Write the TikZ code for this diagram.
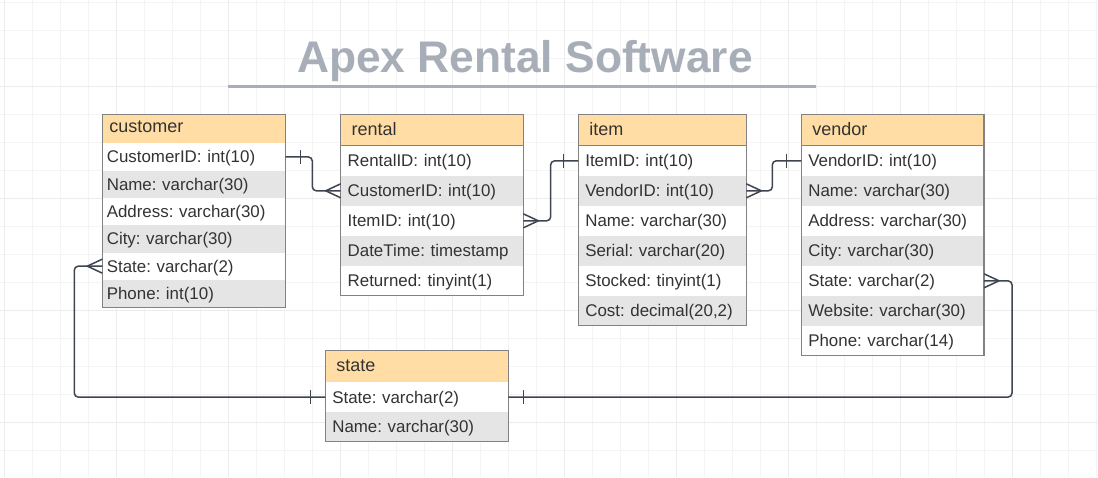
\documentclass[tikz,border=0pt]{standalone}
\usepackage{fontspec}
\setmainfont{Liberation Sans}
\usetikzlibrary{calc}
\frenchspacing

\definecolor{headfill}{HTML}{FFDDA4}
\definecolor{rowgray}{HTML}{E5E5E5}
\definecolor{boxline}{HTML}{828282}
\definecolor{wire}{HTML}{3E4450}
\definecolor{ink}{HTML}{333333}
\definecolor{titlegray}{HTML}{A8AEB8}
\definecolor{gridlight}{HTML}{F4F4F4}
\definecolor{griddark}{HTML}{ECECEC}

\newcommand\headfont{\fontsize{18pt}{20pt}\selectfont}
\newcommand\fieldfont{\fontsize{16.9pt}{19pt}\selectfont}
\newcommand\titlefont{\fontsize{44.3pt}{50pt}\selectfont\bfseries}

\begin{document}
\begin{tikzpicture}[x=1pt,y=-1pt,
    gridline/.style={draw=gridlight, line width=1pt},
    gridmajor/.style={draw=griddark, line width=1pt},
    tablehead/.style={draw=boxline, line width=1.2pt, fill=headfill, anchor=north west,
      outer sep=0pt, inner ysep=0pt, inner xsep=11pt, minimum height=31.5pt,
      text height=13pt, text depth=3pt, align=left, font=\headfont, text=ink},
    field/.style={anchor=north west, outer sep=0pt, inner ysep=0pt, inner xsep=7pt,
      minimum height=30pt, text height=13pt, text depth=1pt, align=left,
      font=\fieldfont, text=ink},
    tableframe/.style={draw=boxline, line width=1.2pt},
    conn/.style={draw=wire, line width=1.5pt, rounded corners=4pt},
    many/.pic={\draw[conn] (-15,0) -- (0,-7) (-15,0) -- (0,7);},
    one/.pic={\draw[conn] (-15,-7) -- (-15,7);}]
    \useasboundingbox (0,0) rectangle (1098,477);
    \fill[white] (0,0) rectangle (1098,477);
    %% Grid
    \foreach \k in {0,...,39} \draw[gridline] ({4+28*\k},0) -- ({4+28*\k},477);
    \foreach \k in {0,...,16} \draw[gridline] (0,{2+28*\k}) -- (1098,{2+28*\k});
    \foreach \k in {0,...,9} \draw[gridmajor] ({4+112*\k},0) -- ({4+112*\k},477);
    \foreach \k in {0,...,3} \draw[gridmajor] (0,{86+112*\k}) -- (1098,{86+112*\k});
    %% Title
    \node[anchor=base, font=\titlefont, text=titlegray] (title) at (525,72.3) {Apex Rental Software};
    \draw[draw=titlegray, line width=3pt] (228.4,86.7) -- (815.9,86.7);
    %% customer
    \node[tablehead, inner xsep=7pt, text width=169pt, minimum height=29pt, text depth=6pt] (customer) at (102.3,114.3) {customer};
    \foreach \txt [count=\i] in {CustomerID: int(10), Name: varchar(30), Address: varchar(30),
        City: varchar(30), State: varchar(2), Phone: int(10)} {
      \ifodd\i \def\rowfill{white}\else \def\rowfill{rowgray}\fi
      \node[field, fill=\rowfill, inner xsep=4.5pt, text width=174pt, minimum height=27.3pt]
        (customer-\i) at ($(customer.south west)+(0,{27.3*(\i-1)})$) {\txt};
    }
    \draw[tableframe] (customer.north west) rectangle (customer-6.south east);
    %% rental
    \node[tablehead, text width=160.6pt] (rental) at (340.7,114.3) {rental};
    \foreach \txt [count=\i] in {RentalID: int(10), CustomerID: int(10), ItemID: int(10),
        DateTime: timestamp, Returned: tinyint(1)} {
      \ifodd\i \def\rowfill{white}\else \def\rowfill{rowgray}\fi
      \node[field, fill=\rowfill, text width=168.6pt]
        (rental-\i) at ($(rental.south west)+(0,{30*(\i-1)})$) {\txt};
    }
    \draw[tableframe] (rental.north west) rectangle (rental-5.south east);
    %% item
    \node[tablehead, text width=146pt] (item) at (578.3,114.3) {item};
    \foreach \txt [count=\i] in {ItemID: int(10), VendorID: int(10), Name: varchar(30),
        Serial: varchar(20), Stocked: tinyint(1), {Cost: decimal(20,2)}} {
      \ifodd\i \def\rowfill{white}\else \def\rowfill{rowgray}\fi
      \node[field, fill=\rowfill, text width=154pt]
        (item-\i) at ($(item.south west)+(0,{30*(\i-1)})$) {\txt};
    }
    \draw[tableframe] (item.north west) rectangle (item-6.south east);
    %% vendor
    \node[tablehead, text width=160.7pt] (vendor) at (801.3,114.3) {vendor};
    \foreach \txt [count=\i] in {VendorID: int(10), Name: varchar(30), Address: varchar(30),
        City: varchar(30), State: varchar(2), Website: varchar(30), Phone: varchar(14)} {
      \ifodd\i \def\rowfill{white}\else \def\rowfill{rowgray}\fi
      \node[field, fill=\rowfill, text width=168.7pt]
        (vendor-\i) at ($(vendor.south west)+(0,{30*(\i-1)})$) {\txt};
    }
    \draw[tableframe] (vendor.north west) rectangle (vendor-7.south east);
    %% state
    \node[tablehead, text width=161pt] (state) at (325.3,350.7) {state};
    \foreach \txt [count=\i] in {State: varchar(2), Name: varchar(30)} {
      \ifodd\i \def\rowfill{white}\else \def\rowfill{rowgray}\fi
      \node[field, fill=\rowfill, text width=169pt, minimum height=29.8pt]
        (state-\i) at ($(state.south west)+(0,{29.8*(\i-1)})$) {\txt};
    }
    \draw[tableframe] (state.north west) rectangle (state-2.south east);
    %% Relations
    \draw[conn] (customer-1.east) -- ++(27,0) |- (rental-2.west);
    \pic[rotate=180] at (customer-1.east) {one};
    \pic at (rental-2.west) {many};
    \draw[conn] (rental-3.east) -- ++(27.4,0) |- (item-1.west);
    \pic[rotate=180] at (rental-3.east) {many};
    \pic at (item-1.west) {one};
    \draw[conn] (item-2.east) -- ++(26,0) |- (vendor-1.west);
    \pic[rotate=180] at (item-2.east) {many};
    \pic at (vendor-1.west) {one};
    \draw[conn] (customer-5.west) -- ++(-28,0) |- (state-1.west);
    \pic at (customer-5.west) {many};
    \pic at (state-1.west) {one};
    \draw[conn] (vendor-5.east) -- ++(28,0) |- (state-1.east);
    \pic[rotate=180] at (vendor-5.east) {many};
    \pic[rotate=180] at (state-1.east) {one};
\end{tikzpicture}
\end{document}
